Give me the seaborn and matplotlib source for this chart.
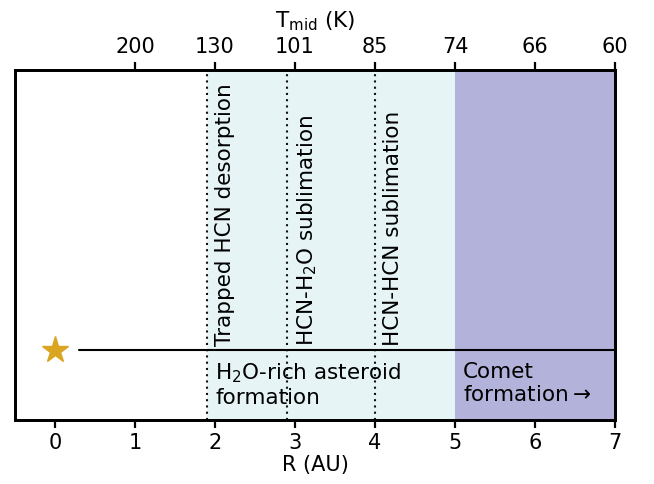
import matplotlib
matplotlib.use("Agg")
import matplotlib.pyplot as plt
import seaborn as sns
import numpy as np

sns.set_style("white")
plt.rcParams['font.family'] = ['DejaVu Sans']
plt.rcParams.update({
    "text.color": "black",
    "axes.labelcolor": "black",
    "xtick.color": "black",
    "axes.edgecolor": "black",
})

# data
r_ticks = [0, 1, 2, 3, 4, 5, 6, 7]
t_tick_pos = [1, 2, 3, 4, 5, 6, 7]
t_tick_labels = ["200", "130", "101", "85", "74", "66", "60"]
line_pos = [1.9, 2.9, 4.0]
line_labels = ["Trapped HCN desorption", r"HCN-H$_2$O sublimation", "HCN-HCN sublimation"]
asteroid_zone = [1.9, 5.0]
comet_zone = [5.0, 7.0]
disk_r = [0.3, 7.0]
disk_y = [0.2, 0.2]
star_r = [0]
star_y = [0.2]

fig = plt.figure(figsize=(6.54, 4.85), dpi=100)
ax = fig.add_axes([15/654, 1 - 421/485, 600/654, 350/485])

ax.axvspan(asteroid_zone[0], asteroid_zone[1], color="#E6F4F6", lw=0, zorder=0)
ax.axvspan(comet_zone[0], comet_zone[1], color="#B2B2DA", lw=0, zorder=0)

for xp, lab in zip(line_pos, line_labels):
    ax.axvline(xp, color="#111111", ls=(0, (1, 2)), lw=1.5, zorder=1)
    ax.text(xp + 0.1, 0.215, lab, rotation=90, ha="left", va="bottom", fontsize=15.5)

sns.lineplot(x=disk_r, y=disk_y, ax=ax, color="black", lw=1.5, zorder=2)
ax.plot(star_r, star_y, marker="*", color="#DAA520", markersize=20, ls="none", zorder=3)

ax.text(2.0, 0.17, "H$_2$O-rich asteroid\nformation", ha="left", va="top", fontsize=15.5)
ax.text(5.1, 0.17, "Comet\nformation$\\rightarrow$", ha="left", va="top", fontsize=15.5)

ax.set_xlim(-0.5, 7)
ax.set_ylim(0, 1)
ax.set_yticks([])
ax.set_xticks(r_ticks)
ax.set_xlabel("R (AU)", fontsize=15, labelpad=1)
ax.tick_params(axis="x", labelsize=15, direction="out", length=6, width=1.6, bottom=True, pad=3)

for s in ax.spines.values():
    s.set_linewidth(2)
    s.set_color("black")

ax2 = ax.twiny()
ax2.set_xlim(ax.get_xlim())
ax2.set_xticks(t_tick_pos)
ax2.set_xticklabels(t_tick_labels)
ax2.set_xlabel(r"T$_{\rm mid}$ (K)", fontsize=15.5, labelpad=7)
ax2.tick_params(axis="x", labelsize=15, direction="out", length=6, width=1.6, top=True, pad=4)
for s in ax2.spines.values():
    s.set_linewidth(2)
    s.set_color("black")

fig.savefig("out.png", dpi=100)
